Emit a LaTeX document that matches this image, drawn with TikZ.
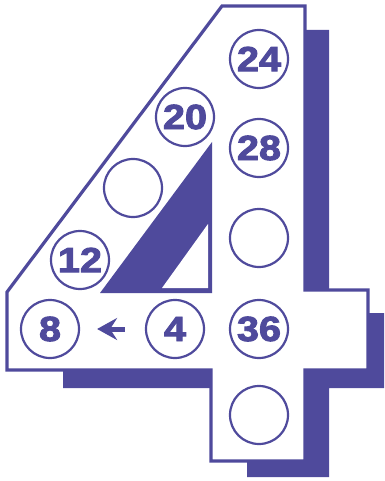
\documentclass[tikz,border=0pt]{standalone}
\usepackage{fontspec}
\setmainfont{Liberation Sans}
\newfontfamily\numfont{Liberation Sans Bold}[FakeBold=2.5]
\usepackage{graphicx}
\usetikzlibrary{arrows.meta}
\definecolor{Ink}{HTML}{4F4A9C}
\definecolor{Paper}{HTML}{FFFFFF}
\newcommand{\widenum}[1]{\scalebox{1.13}[1]{#1}}
\tikzset{
    ball/.style={circle, draw=Ink, line width=2.2pt, minimum size=58pt, inner sep=0pt, text=Ink, font=\numfont\fontsize{35}{35}\selectfont},
    extrude/.style={fill=Ink, draw=none},
    glyph/.style={fill=Paper, draw=Ink, line width=3.2pt, line join=miter},
    backarrow/.style={-{Stealth[length=20pt, width=22pt, inset=7pt]}, line width=5pt, draw=Ink},
}

\begin{document}
\begin{tikzpicture}[x=1pt, y=-1pt]

        \useasboundingbox (0,0) rectangle (384,481);

        % 1. The dark block behind the figure
        \fill[extrude] (300,30) -- (329,30) -- (329,313) -- (384,313) -- (384,388)
            -- (329,388) -- (329,477) -- (247,477) -- (247,440) -- (220,440)
            -- (220,388) -- (63,388) -- (63,360) -- (300,360) -- cycle;

        % 2. The white figure "4"
        \draw[glyph] (222,6) -- (305,6) -- (305,290) -- (368,290) -- (368,370)
            -- (305,370) -- (305,461) -- (211,461) -- (211,370) -- (7,370)
            -- (7,292) -- cycle;

        % Inner triangle
        \fill[extrude] (100,293) -- (212,142) -- (212,293) -- cycle;
        \fill[Paper] (162,288) -- (208,224) -- (208,288) -- cycle;

        % 3. The numbers, stem of the figure
        \node[ball] (ball_24) at (259,59) {\widenum{24}};
        \node[ball] (ball_28) at (259,148) {\widenum{28}};
        \node[ball] (ball_blank_a) at (259,238) {};
        \node[ball] (ball_36) at (259,329) {\widenum{36}};
        \node[ball] (ball_blank_b) at (259,415) {};

        % Slanted side
        \node[ball] (ball_20) at (185,117) {\widenum{20}};
        \node[ball] (ball_blank_c) at (133,188) {};
        \node[ball] (ball_12) at (80,260) {\widenum{12}};

        % Crossbar
        \node[ball] (ball_8) at (50,329) {\widenum{8}};
        \node[ball] (ball_4) at (175,329) {\widenum{4}};

        % 4. Arrow: start at 4, go left
        \draw[backarrow, fill=Ink, shorten >=17pt, shorten <=20pt] (ball_4.west) -- (ball_8.east);

\end{tikzpicture}
\end{document}
